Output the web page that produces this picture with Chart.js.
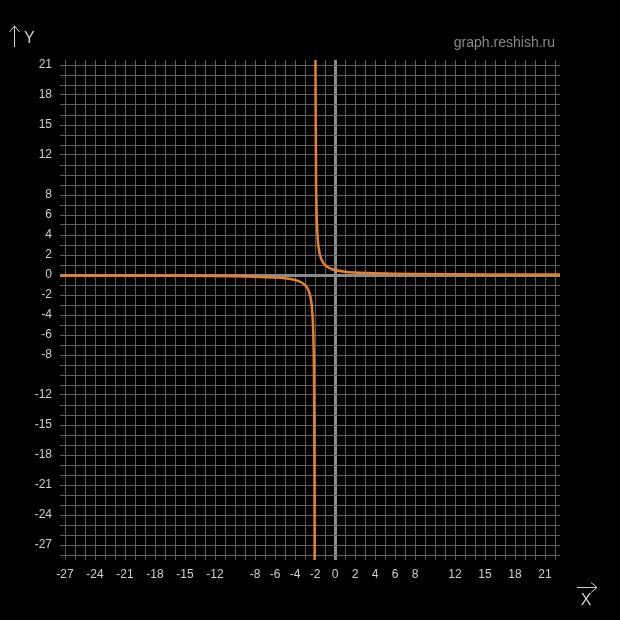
<!DOCTYPE html>
<html>
<head>
<meta charset="utf-8">
<script src="https://cdn.jsdelivr.net/npm/chart.js@4"></script>
<style>
  body { margin: 0; background: #000; }
  canvas { display: block; }
</style>
</head>
<body>
<canvas id="graph" width="620" height="620"></canvas>
<script>
// values
const leftX = [-27.5, -20, -15, -12, -10, -8, -6, -5, -4, -3.5, -3, -2.75, -2.5, -2.4, -2.3, -2.2, -2.15, -2.1, -2.05, -2.035];
const leftY = [-0.04, -0.056, -0.077, -0.1, -0.125, -0.167, -0.25, -0.33, -0.5, -0.67, -1, -1.33, -2, -2.5, -3.3, -5, -6.7, -10, -20, -28.5];
const rightX = [-1.953, -1.95, -1.9, -1.85, -1.8, -1.7, -1.6, -1.5, -1.25, -1, -0.5, 0, 1, 2, 4, 6, 8, 12, 16, 22.5];
const rightY = [21.5, 20, 10, 6.7, 5, 3.3, 2.5, 2, 1.33, 1, 0.67, 0.5, 0.33, 0.25, 0.17, 0.125, 0.1, 0.071, 0.056, 0.04];

const xLabels = [-27, -24, -21, -18, -15, -12, -8, -6, -4, -2, 0, 2, 4, 6, 8, 12, 15, 18, 21];
const yLabels = [21, 18, 15, 12, 8, 6, 4, 2, 0, -2, -4, -6, -8, -12, -15, -18, -21, -24, -27];

const xMin = -27.5, xMax = 22.5;
const yMin = -28.5, yMax = 21.5;

function toPoints(xs, ys) {
    return xs.map((x, i) => ({ x: x, y: ys[i] }));
}

function unitTicks(scale) {
    const ticks = [];
    for (let v = Math.ceil(scale.min); v <= Math.floor(scale.max); v++) {
        ticks.push({ value: v });
    }
    scale.ticks = ticks;
}

const gridStyle = {
    color: ctx => ctx.tick && ctx.tick.value === 0 ? '#8c8c8c' : '#5e5e5e',
    lineWidth: ctx => ctx.tick && ctx.tick.value === 0 ? 3 : 1,
    drawTicks: false
};

// header text and axis arrows
const decorations = {
    id: 'decorations',
    afterDraw(chart) {
        const c = chart.ctx;
        c.save();
        c.fillStyle = '#8a8a8a';
        c.font = '14px "Liberation Sans", Arial, sans-serif';
        c.textAlign = 'right';
        c.textBaseline = 'alphabetic';
        c.fillText('graph.reshish.ru', 555, 47);

        c.strokeStyle = '#cfcfcf';
        c.fillStyle = '#cfcfcf';
        c.lineWidth = 1;
        c.beginPath();
        c.moveTo(14.5, 47); c.lineTo(14.5, 26);
        c.moveTo(9.5, 32); c.lineTo(14.5, 26); c.lineTo(19.5, 32);
        c.moveTo(577, 587.5); c.lineTo(597, 587.5);
        c.moveTo(591, 582.5); c.lineTo(597, 587.5); c.lineTo(591, 592.5);
        c.stroke();

        c.font = '16px "Liberation Sans", Arial, sans-serif';
        c.textAlign = 'left';
        c.textBaseline = 'middle';
        c.fillText('Y', 24, 39);
        c.textAlign = 'center';
        c.fillText('X', 586, 601);
        c.restore();
    }
};

new Chart(document.getElementById('graph'), {
    type: 'scatter',
    data: {
        datasets: [{
            data: toPoints(leftX, leftY)
        }, {
            data: toPoints(rightX, rightY)
        }]
    },
    options: {
        responsive: false,
        animation: false,
        showLine: true,
        layout: { padding: { top: 60, right: 60, left: 0, bottom: 0 } },
        elements: {
            point: { radius: 0 },
            line: {
                borderColor: '#e8802c',
                borderWidth: 2.5,
                cubicInterpolationMode: 'monotone'
            }
        },
        plugins: {
            legend: { display: false },
            tooltip: { enabled: false }
        },
        scales: {
            x: {
                type: 'linear',
                min: xMin,
                max: xMax,
                afterBuildTicks: unitTicks,
                afterFit: scale => { scale.height = 60; },
                grid: gridStyle,
                border: { display: false },
                ticks: {
                    autoSkip: false,
                    maxRotation: 0,
                    padding: 7,
                    color: '#cfcfcf',
                    font: { family: '"Liberation Sans", Arial, sans-serif', size: 12 },
                    callback: v => xLabels.includes(v) ? String(v) : ''
                }
            },
            y: {
                type: 'linear',
                min: yMin,
                max: yMax,
                afterBuildTicks: unitTicks,
                afterFit: scale => { scale.width = 60; },
                grid: gridStyle,
                border: { display: false },
                ticks: {
                    autoSkip: false,
                    padding: 8,
                    color: '#cfcfcf',
                    font: { family: '"Liberation Sans", Arial, sans-serif', size: 12 },
                    callback: v => yLabels.includes(v) ? String(v) : ''
                }
            }
        }
    },
    plugins: [decorations]
});
</script>
</body>
</html>
